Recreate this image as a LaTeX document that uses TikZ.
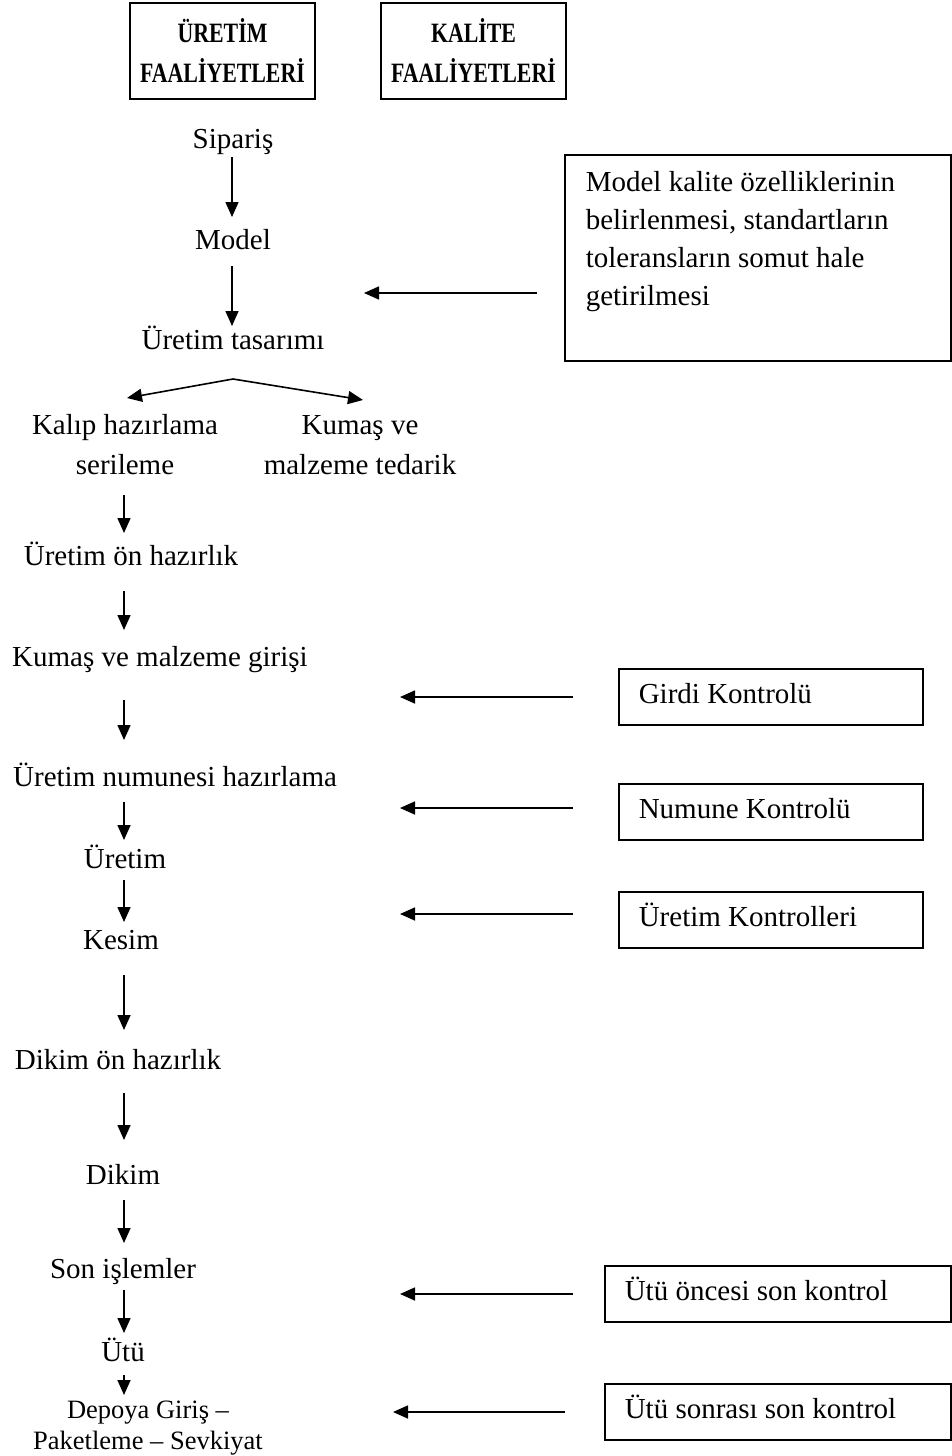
\documentclass[tikz,border=0pt]{standalone}
\usepackage{fontspec}
\setmainfont{Liberation Serif}
\newfontfamily\hdrfont[FakeStretch=0.78]{Liberation Serif}
\usetikzlibrary{arrows.meta,calc}
\begin{document}
\begin{tikzpicture}[x=1pt,y=-1pt,
  every node/.style={inner sep=0pt},
  lbl/.style={font=\fontsize{29}{38}\selectfont, text height=20pt, text depth=7pt},
  lbltwo/.style={font=\fontsize{29}{40}\selectfont, align=center},
  hdr/.style={draw, line width=1.8pt, minimum width=185pt, minimum height=96pt, align=center, font=\hdrfont\bfseries\fontsize{28}{40}\selectfont},
  kbox/.style={draw, line width=1.6pt, anchor=north west, align=flush left, inner xsep=20pt, font=\fontsize{29}{38}\selectfont},
  kone/.style={kbox, text height=20pt, text depth=7pt, minimum height=56pt},
  arr/.style={line width=1.6pt, -{Triangle[length=15pt,width=13pt]}},
]
\useasboundingbox (0,0) rectangle (951,1456);

% headers
\node[hdr] (h1) at (222.5,51) {ÜRETİM\\FAALİYETLERİ};
\node[hdr] (h2) at (473.5,51) {KALİTE\\FAALİYETLERİ};

% production column
\node[lbl] (sip) at (233,142) {Sipariş};
\node[lbl] (mod) at (233,243) {Model};
\node[lbl] (tas) at (233,343) {Üretim tasarımı};
\node[lbltwo] (kal) at (125,445) {Kalıp hazırlama\\serileme};
\node[lbltwo] (kum) at (360,445) {Kumaş ve\\malzeme tedarik};
\node[lbl] (onh) at (131,559) {Üretim ön hazırlık};
\node[lbl, anchor=west] (kmg) at (12,660) {Kumaş ve malzeme girişi};
\node[lbl, anchor=west] (unh) at (13,780) {Üretim numunesi hazırlama};
\node[lbl] (ur) at (125,862) {Üretim};
\node[lbl] (kes) at (121,943) {Kesim};
\node[lbl] (doh) at (118,1063) {Dikim ön hazırlık};
\node[lbl] (dik) at (123,1178) {Dikim};
\node[lbl] (son) at (123,1272) {Son işlemler};
\node[lbl] (utu) at (123,1355) {Ütü};
\node[font=\fontsize{26.5}{31}\selectfont, align=center] (dep) at (148,1428) {Depoya Giriş –\\Paketleme – Sevkiyat};

% quality column
\node[kbox, inner xsep=21pt, text width=344pt, minimum height=206pt] (mbox) at (564,154)
  {Model kalite özelliklerinin\\belirlenmesi, standartların\\toleransların somut hale\\getirilmesi\\~};
\node[kone, text width=264pt] (gir) at (618,668) {Girdi Kontrolü};
\node[kone, text width=264pt] (num) at (618,783) {Numune Kontrolü};
\node[kone, text width=264pt] (ukn) at (618,891) {Üretim Kontrolleri};
\node[kone, text width=306pt] (uon) at (604,1265) {Ütü öncesi son kontrol};
\node[kone, text width=306pt] (usn) at (604,1383) {Ütü sonrası son kontrol};

% vertical arrows
\coordinate (cA) at (232,0);
\coordinate (cB) at (124,0);
\draw[arr, shorten <=15pt, shorten >=26pt] (cA |- sip.center) -- (cA |- mod.center);
\draw[arr, shorten <=23pt, shorten >=17pt] (cA |- mod.center) -- (cA |- tas.center);
\draw[arr, shorten <=50pt, shorten >=26pt] (cB |- kal.center) -- (cB |- onh.center);
\draw[arr, shorten <=32pt, shorten >=30pt] (cB |- onh.center) -- (cB |- kmg.center);
\draw[arr, shorten <=40pt, shorten >=40pt] (cB |- kmg.center) -- (cB |- unh.center);
\draw[arr, shorten <=22pt, shorten >=22pt] (cB |- unh.center) -- (cB |- ur.center);
\draw[arr, shorten <=18pt, shorten >=21pt] (cB |- ur.center) -- (cB |- kes.center);
\draw[arr, shorten <=32pt, shorten >=33pt] (cB |- kes.center) -- (cB |- doh.center);
\draw[arr, shorten <=30pt, shorten >=38pt] (cB |- doh.center) -- (cB |- dik.center);
\draw[arr, shorten <=22pt, shorten >=29pt] (cB |- dik.center) -- (cB |- son.center);
\draw[arr, shorten <=18pt, shorten >=22pt] (cB |- son.center) -- (cB |- utu.center);
\draw[arr, shorten <=20pt, shorten >=33pt] (cB |- utu.center) -- (cB |- dep.center);

% branch
\coordinate (apex) at ($(tas.center)+(0,36)$);
\coordinate (bl) at (127,398);
\coordinate (br) at (363,400);
\draw[arr] (apex) -- (bl);
\draw[arr] (apex) -- (br);

% quality arrows
\coordinate (tM) at (364,293);
\coordinate (tG) at (400,697);
\coordinate (tN) at (400,808);
\coordinate (tU) at (400,914);
\coordinate (tO) at (400,1294);
\coordinate (tS) at (393,1412);
\draw[arr, shorten <=27pt] (mbox.west |- tM) -- (tM);
\draw[arr, shorten <=45pt] (gir.west |- tG) -- (tG);
\draw[arr, shorten <=45pt] (num.west |- tN) -- (tN);
\draw[arr, shorten <=45pt] (ukn.west |- tU) -- (tU);
\draw[arr, shorten <=31pt] (uon.west |- tO) -- (tO);
\draw[arr, shorten <=39pt] (usn.west |- tS) -- (tS);
\end{tikzpicture}
\end{document}
